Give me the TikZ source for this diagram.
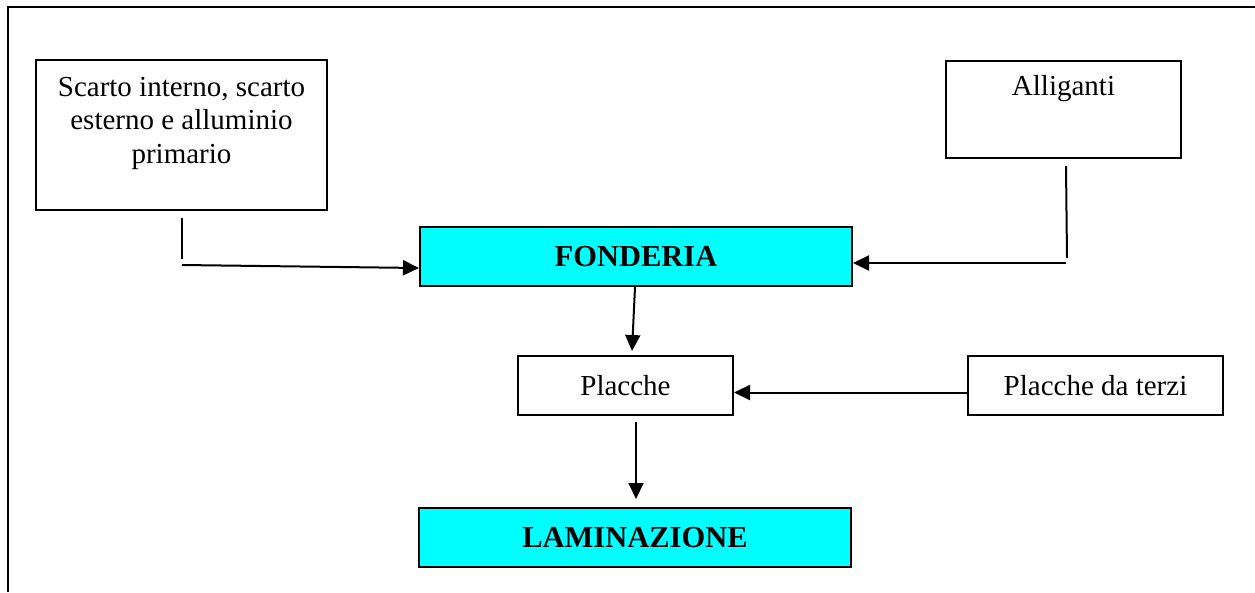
\documentclass[tikz,border=0pt]{standalone}
\usepackage{fontspec}
\setmainfont{Liberation Serif}
\usetikzlibrary{arrows.meta}
\definecolor{boxcyan}{HTML}{00FFFF}
\tikzset{
  plainbox/.style={draw=black, line width=2pt, fill=white, rectangle, inner sep=0pt},
  cyanbox/.style={draw=black, line width=2pt, fill=boxcyan, rectangle, inner sep=0pt, font=\fontsize{30.5}{34}\selectfont\bfseries},
  txt/.style={font=\fontsize{29}{33}\selectfont},
  lbl/.style={font=\fontsize{29}{33.5}\selectfont, align=center, inner sep=0pt},
  conn/.style={line width=2pt},
  arr/.style={line width=2pt, -{Triangle[length=16pt,width=15pt]}},
}
\begin{document}
\begin{tikzpicture}[x=1pt,y=-1pt]
\useasboundingbox (0,0) rectangle (1255,592);
% frame
\draw[line width=1.5pt] (8,592) -- (8,7) -- (1255,7);

% nodes
\node[plainbox, minimum width=291pt, minimum height=150pt] (scarto) at (181.5,135) {};
\node[lbl, anchor=center] (scartotxt) at (181.5,123) {Scarto interno, scarto\\esterno e alluminio\\primario};

\node[plainbox, minimum width=235pt, minimum height=97pt] (all) at (1063.5,109.5) {};
\node[lbl] (alltxt) at (1063.5,89) {Alliganti};

\node[cyanbox, minimum width=432pt, minimum height=59pt] (fond) at (636,256.5) {FONDERIA};
\node[plainbox, txt, minimum width=215pt, minimum height=59pt] (plac) at (625.5,385.5) {Placche};
\node[plainbox, txt, minimum width=255pt, minimum height=59pt] (terzi) at (1095.5,385.5) {Placche da terzi};
\node[cyanbox, minimum width=432pt, minimum height=59pt] (lam) at (635,537.5) {LAMINAZIONE};

% connector coordinates
\coordinate (l1) at (182,218);
\coordinate (l2) at (182,259);
\coordinate (l3) at (182,265);
\coordinate (r1) at (1066,166);
\coordinate (r2) at (1067,258);
\coordinate (r3) at (1066,263);

\draw[conn] (l1) -- (l2);
\draw[arr] (l3) -- ([yshift=-11.5pt]fond.west);
\draw[conn] (r1) -- (r2);
\draw[arr] (r3) -- (fond.east |- r3);
\draw[arr] ([xshift=-1pt]fond.south) -- ([xshift=6.5pt,yshift=4pt]plac.north);
\draw[arr] ([yshift=-7pt]terzi.west) -- ([yshift=-7pt]plac.east);
\draw[arr] ([xshift=10.5pt,yshift=-6pt]plac.south) -- ([xshift=1pt,yshift=8pt]lam.north);
\end{tikzpicture}
\end{document}
